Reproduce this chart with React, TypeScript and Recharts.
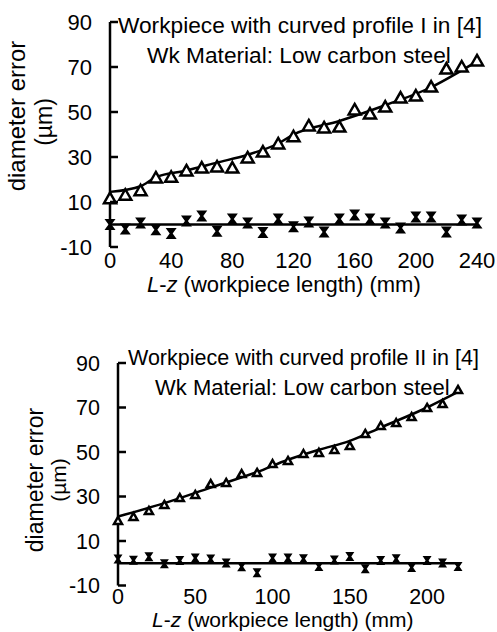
import React from 'react';
import { ComposedChart, Line, Scatter, XAxis, YAxis, ReferenceLine } from 'recharts';

const FONT = '"Liberation Sans", Arial, Helvetica, sans-serif';

// Profile I (top panel)
const lengthsI = [0, 10, 20, 30, 40, 50, 60, 70, 80, 90, 100, 110, 120, 130, 140, 150, 160, 170, 180, 190, 200, 210, 220, 230, 240];
const triErrI = [11.5, 13, 15, 20.7, 21, 23.8, 25.1, 25.6, 25.1, 29.6, 32.2, 35.8, 39, 43.8, 42.9, 43.3, 50.9, 49.1, 52.2, 56.2, 57.1, 61.1, 69.1, 70, 72.7];
const crossErrI = [0, -2, 0.7, -2.3, -4, 1.6, 3.8, -3, 2.4, 0.7, -3.6, 2.4, -1, 1.1, -3.3, 2.4, 4.2, 2.4, 0.7, -1.6, 3.3, 3.3, -3.3, 2, 0.7];
const fitLenI = [0, 20, 30, 50, 70, 90, 110, 120, 150, 180, 210, 230, 240];
const fitErrI = [14.5, 17, 21, 24, 27.5, 31, 36, 40, 46, 53, 61, 68.5, 72.5];
const xTicksI = [0, 40, 80, 120, 160, 200, 240];

// Profile II (bottom panel)
const lengthsII = [0, 10, 20, 30, 40, 50, 60, 70, 80, 90, 100, 110, 120, 130, 140, 150, 160, 170, 180, 190, 200, 210, 220];
const triErrII = [19, 20.8, 23.5, 26.2, 29.3, 30.7, 35.6, 36.1, 40.1, 40.6, 44.6, 46, 49.1, 49.6, 50.9, 52.7, 58.1, 61.7, 63, 65.7, 69.8, 71.6, 77.9];
const crossErrII = [1.9, 1.4, 2.9, -0.2, 1.2, 2.4, 1.9, 0.1, -1.6, -4.3, 2.4, 2.4, 2, -1.5, 1.5, 3, -2.5, 1.2, 2, -1.9, 1.2, 0.1, -1.5];
const fitLenII = [0, 30, 60, 90, 110, 130, 150, 170, 200, 220];
const fitErrII = [21, 27, 34, 41, 46.5, 51, 55, 61, 70, 77];
const xTicksII = [0, 50, 100, 150, 200];

const yTicks = [-10, 10, 30, 50, 70, 90];

const toPoints = (xs: number[], ys: number[]) => xs.map((len, i) => ({ len, err: ys[i] }));

const triangle = (s: number, w: number) => (props: any) => {
  const { cx, cy } = props;
  return (
    <path
      d={`M${cx},${cy - s} L${cx + s},${cy + s * 0.75} L${cx - s},${cy + s * 0.75} Z`}
      fill="#fff"
      stroke="#000"
      strokeWidth={w}
    />
  );
};

const hourglass = (s: number) => (props: any) => {
  const { cx, cy } = props;
  return (
    <path
      d={`M${cx - s},${cy - s} L${cx + s},${cy - s} L${cx + 1.5},${cy} L${cx + s},${cy + s} L${cx - s},${cy + s} L${cx - 1.5},${cy} Z`}
      fill="#000"
    />
  );
};

const makeYTick = (size: number) => (props: any) => {
  const { x, y, payload } = props;
  return (
    <g>
      <text x={x} y={y} dy="0.36em" textAnchor="end" fontSize={size} fontFamily={FONT} fill="#000">
        {payload.value}
      </text>
      <line x1={x + 18} x2={x + 26} y1={y} y2={y} stroke="#000" strokeWidth={2.5} />
    </g>
  );
};

interface PanelProps {
  top: number;
  axisX: number;
  right: number;
  marginTop: number;
  marginBottom: number;
  domainMax: number;
  xTicks: number[];
  tickMargin: number;
  tickFont: number;
  tri: { len: number; err: number }[];
  cross: { len: number; err: number }[];
  fit: { len: number; err: number }[];
  triSize: number;
  crossSize: number;
}

function Panel(p: PanelProps) {
  return (
    <div style={{ position: 'absolute', left: 0, top: p.top }}>
      <ComposedChart
        width={497}
        height={300}
        margin={{ top: p.marginTop, right: p.right, bottom: p.marginBottom, left: 0 }}
      >
        <XAxis
          type="number"
          dataKey="len"
          domain={[0, p.domainMax]}
          ticks={p.xTicks}
          axisLine={false}
          tickLine={false}
          tickSize={0}
          tickMargin={p.tickMargin}
          height={40}
          tick={{ fontSize: p.tickFont, fill: '#000', fontFamily: FONT }}
          interval={0}
        />
        <YAxis
          type="number"
          domain={[-10, 90]}
          ticks={yTicks}
          width={p.axisX}
          tickLine={false}
          tickSize={0}
          tickMargin={18}
          axisLine={{ stroke: '#000', strokeWidth: 2.5 }}
          tick={makeYTick(p.tickFont)}
          interval={0}
        />
        <ReferenceLine y={0} stroke="#000" strokeWidth={2.5} />
        <Line
          data={p.fit}
          dataKey="err"
          type="monotone"
          stroke="#000"
          strokeWidth={2.5}
          dot={false}
          isAnimationActive={false}
        />
        <Scatter data={p.tri} dataKey="err" shape={triangle(p.triSize, 2.5)} isAnimationActive={false} />
        <Scatter data={p.cross} dataKey="err" shape={hourglass(p.crossSize)} isAnimationActive={false} />
      </ComposedChart>
    </div>
  );
}

export default function App() {
  return (
    <div style={{ position: 'absolute', left: 0, top: 0, width: 497, height: 632, background: '#fff' }}>
      <Panel
        top={0}
        axisX={110}
        right={20}
        marginTop={22}
        marginBottom={13}
        domainMax={240}
        xTicks={xTicksI}
        tickMargin={5}
        tickFont={22}
        tri={toPoints(lengthsI, triErrI)}
        cross={toPoints(lengthsI, crossErrI)}
        fit={toPoints(fitLenI, fitErrI)}
        triSize={6}
        crossSize={5.5}
      />
      <Panel
        top={330}
        axisX={118}
        right={39}
        marginTop={33}
        marginBottom={4.5}
        domainMax={220}
        xTicks={xTicksII}
        tickMargin={3}
        tickFont={21.5}
        tri={toPoints(lengthsII, triErrII)}
        cross={toPoints(lengthsII, crossErrII)}
        fit={toPoints(fitLenII, fitErrII)}
        triSize={4}
        crossSize={4.5}
      />
      <svg
        width={497}
        height={632}
        style={{ position: 'absolute', left: 0, top: 0, pointerEvents: 'none' }}
        fontFamily={FONT}
        fill="#000"
      >
        <text x={118} y={33} fontSize={22.7}>Workpiece with curved profile I in [4]</text>
        <text x={147} y={63} fontSize={22.7}>Wk Material: Low carbon steel</text>
        <text transform="translate(25,116) rotate(-90)" textAnchor="middle" fontSize={24}>diameter error</text>
        <text transform="translate(52,122) rotate(-90)" textAnchor="middle" fontSize={23}>(µm)</text>
        <text x={147} y={292} fontSize={22}>
          <tspan fontStyle="italic">L</tspan>-<tspan fontStyle="italic">z</tspan>
          <tspan dx={6}>(workpiece length) (mm)</tspan>
        </text>

        <text x={128} y={365} fontSize={21.5}>Workpiece with curved profile II in [4]</text>
        <text x={155} y={395} fontSize={22}>Wk Material: Low carbon steel</text>
        <text transform="translate(43,480) rotate(-90)" textAnchor="middle" fontSize={23}>diameter error</text>
        <text transform="translate(66,480) rotate(-90)" textAnchor="middle" fontSize={21}>(µm)</text>
        <text x={152} y={627} fontSize={21}>
          <tspan fontStyle="italic">L</tspan>-<tspan fontStyle="italic">z</tspan>
          <tspan dx={6}>(workpiece length) (mm)</tspan>
        </text>
      </svg>
    </div>
  );
}
